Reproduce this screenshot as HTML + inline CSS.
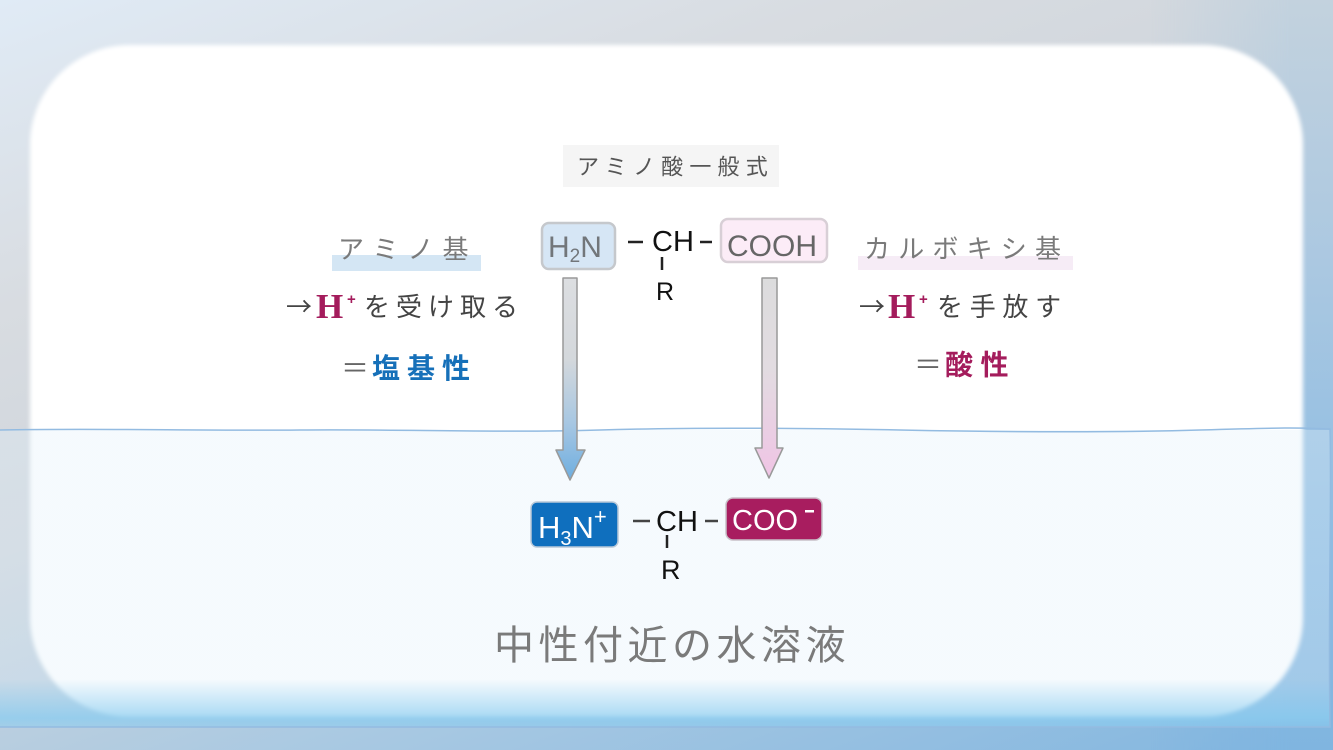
<!DOCTYPE html>
<html>
<head>
<meta charset="utf-8">
<style>
  html,body{margin:0;padding:0;}
  body{width:1333px;height:750px;overflow:hidden;position:relative;
    background:linear-gradient(160deg,#e0ebf6 0%,#d8dce1 25%,#cfd5dc 45%,#a9c9e2 70%,#82b6e0 100%);}
  .rstrip{position:absolute;left:1150px;top:0;width:183px;height:750px;
    background:linear-gradient(to bottom,#c3d2de 0%,#abc8e1 35%,#8fbde2 70%,#80b5e0 100%);
    -webkit-mask-image:linear-gradient(to right,rgba(0,0,0,0) 0,#000 140px);
    mask-image:linear-gradient(to right,rgba(0,0,0,0) 0,#000 140px);}
  .card{position:absolute;left:30px;top:45px;width:1273px;height:672px;border-radius:100px;background:#fff;filter:blur(2px);}
  .water{position:absolute;left:0;top:430px;width:1330px;height:297px;
    background:linear-gradient(to bottom,rgba(225,240,250,0.32) 0%,rgba(225,240,250,0.32) 84%,rgba(140,205,240,0.76) 97%,rgba(140,205,240,0.5) 100%);}
  svg{position:absolute;left:0;top:0;}
  .jp{font-family:"Liberation Sans","Noto Sans CJK JP",sans-serif;}
  .arr{font-family:"Noto Sans CJK JP",sans-serif;}
  .la{font-family:"Liberation Sans",sans-serif;}
</style>
</head>
<body>
<div class="rstrip"></div>
<div class="card"></div>
<div class="water"></div>
<svg width="1333" height="750" viewBox="0 0 1333 750" xmlns="http://www.w3.org/2000/svg">
  <defs>
    <linearGradient id="gl" x1="0" y1="278" x2="0" y2="480" gradientUnits="userSpaceOnUse">
      <stop offset="0" stop-color="#dcdee1"/>
      <stop offset="0.4" stop-color="#d4d8dc"/>
      <stop offset="0.72" stop-color="#a7c7e2"/>
      <stop offset="1" stop-color="#6eaee0"/>
    </linearGradient>
    <linearGradient id="gr" x1="0" y1="278" x2="0" y2="478" gradientUnits="userSpaceOnUse">
      <stop offset="0" stop-color="#dcdcdd"/>
      <stop offset="0.45" stop-color="#e2dce1"/>
      <stop offset="1" stop-color="#f0c4e5"/>
    </linearGradient>
  </defs>

  <!-- water outline -->
  <path d="M0,430 C100,428 200,431 300,430 S500,433 600,430 S800,428 900,430 S1100,433 1200,430 S1300,428 1330,429 C1332,500 1328,600 1330,727 L0,727" fill="none" stroke="#93bbe1" stroke-width="1.5"/>

  <!-- label box -->
  <rect x="563" y="145" width="216" height="42" fill="#f5f5f5"/>
  <text x="577" y="174.5" class="jp" font-size="22" fill="#555" style="letter-spacing:6.2px">アミノ酸一般式</text>

  <!-- left highlight bar -->
  <rect x="332" y="255" width="149" height="16" fill="#d4e6f4"/>
  <text x="338" y="258.5" class="jp" font-size="26" fill="#7a7a7a" style="letter-spacing:9px">アミノ基</text>

  <!-- right highlight bar -->
  <rect x="858" y="256" width="215" height="14" fill="#f6ecf6"/>
  <text x="864" y="258" class="jp" font-size="26" fill="#7a7a7a" style="letter-spacing:8.2px">カルボキシ基</text>

  <!-- left desc -->
  <text x="286" y="316" class="arr" font-size="26" fill="#444">→</text>
  <text x="316" y="318" font-family="Liberation Serif,serif" font-weight="bold" font-size="35" fill="#a41c5c">H</text>
  <text x="347" y="304" font-family="Liberation Sans,sans-serif" font-weight="bold" font-size="15" fill="#a41c5c">+</text>
  <text x="364" y="316" class="jp" font-size="26" fill="#444" style="letter-spacing:6px">を受け取る</text>

  <text x="341" y="378" class="jp" font-size="28" fill="#666">＝</text>
  <text x="372" y="378" class="jp" font-size="28" font-weight="bold" fill="#1670b9" style="letter-spacing:7px">塩基性</text>

  <!-- right desc -->
  <text x="859" y="316" class="arr" font-size="26" fill="#444">→</text>
  <text x="888" y="318" font-family="Liberation Serif,serif" font-weight="bold" font-size="35" fill="#a41c5c">H</text>
  <text x="919" y="304" font-family="Liberation Sans,sans-serif" font-weight="bold" font-size="15" fill="#a41c5c">+</text>
  <text x="937" y="316" class="jp" font-size="26" fill="#444" style="letter-spacing:6.7px">を手放す</text>

  <text x="914" y="374.5" class="jp" font-size="28" fill="#666">＝</text>
  <text x="945" y="374.5" class="jp" font-size="28" font-weight="bold" fill="#a41c5c" style="letter-spacing:7.5px">酸性</text>

  <!-- top structure -->
  <rect x="542" y="223" width="73" height="46" rx="7" fill="#d6e6f5" stroke="#c5c8cc" stroke-width="2.5"/>
  <text x="548" y="257" class="la" font-size="30" fill="#72767a">H<tspan font-size="19" dy="5">2</tspan><tspan font-size="30" dy="-5">N</tspan></text>

  <line x1="628" y1="242" x2="643" y2="242" stroke="#222" stroke-width="2.5"/>
  <text x="652" y="251" class="la" font-size="29" fill="#111">CH</text>
  <line x1="700" y1="242" x2="712" y2="242" stroke="#222" stroke-width="2.5"/>
  <line x1="662" y1="257" x2="662" y2="270" stroke="#222" stroke-width="2.5"/>
  <text x="656" y="300" class="la" font-size="25" fill="#111">R</text>

  <rect x="721" y="219" width="106" height="43" rx="7" fill="#fcecf7" stroke="#d8cfd6" stroke-width="2.5"/>
  <text x="727" y="256" class="la" font-size="30" fill="#666">COOH</text>

  <!-- arrows -->
  <path d="M563,278 L577,278 L577,450 L585,450 L570,480 L556,450 L563,450 Z" fill="url(#gl)" stroke="#999" stroke-width="1.5" stroke-linejoin="round"/>
  <path d="M762,278 L777,278 L777,448 L783,448 L769,478 L755,448 L762,448 Z" fill="url(#gr)" stroke="#999" stroke-width="1.5" stroke-linejoin="round"/>

  <!-- bottom structure -->
  <rect x="531" y="502" width="87" height="45" rx="6" fill="#0f6fbe" stroke="#b8c8d8" stroke-width="1.5"/>
  <text x="538" y="538" class="la" font-size="31" fill="#fff">H<tspan font-size="20" dy="7">3</tspan><tspan font-size="31" dy="-7">N</tspan><tspan font-size="22" dy="-14">+</tspan></text>

  <line x1="633" y1="521" x2="650" y2="521" stroke="#444" stroke-width="2.5"/>
  <text x="656" y="531" class="la" font-size="29" fill="#111">CH</text>
  <line x1="705" y1="521" x2="718" y2="521" stroke="#444" stroke-width="2.5"/>
  <line x1="667" y1="535" x2="667" y2="548" stroke="#222" stroke-width="2.5"/>
  <text x="661" y="579" class="la" font-size="27" fill="#111">R</text>

  <rect x="726" y="498" width="96" height="42" rx="7" fill="#a81d5f" stroke="#c8c0c8" stroke-width="1.5"/>
  <text x="732" y="530" class="la" font-size="29" fill="#fff">COO</text>
  <rect x="805" y="510" width="9" height="2.5" fill="#fff"/>

  <!-- bottom caption -->
  <text x="494" y="659" class="jp" font-size="40" fill="#7a7a7a" style="letter-spacing:4.5px">中性付近の水溶液</text>
</svg>
</body>
</html>
